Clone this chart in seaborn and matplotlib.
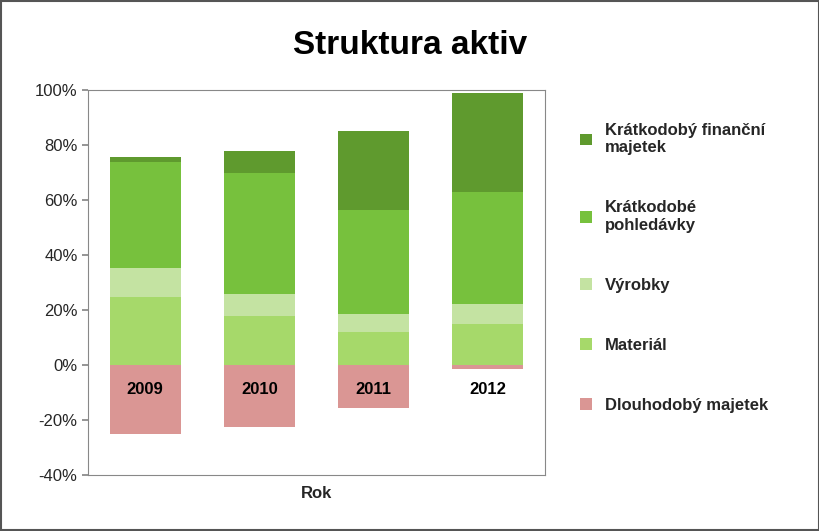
import matplotlib
matplotlib.use("Agg")
import matplotlib.pyplot as plt
import seaborn as sns
import numpy as np

years = ["2009", "2010", "2011", "2012"]
dlouhodoby = [-25.1, -22.5, -15.6, -1.5]
material = [24.7, 17.8, 12.0, 14.9]
vyrobky = [10.6, 8.0, 6.5, 7.3]
pohledavky = [38.5, 44.0, 37.9, 40.7]
financni = [1.8, 8.0, 28.7, 36.0]

sns.set_theme(style="white")
plt.rcParams['font.family'] = ['Liberation Sans', 'DejaVu Sans']

fig = plt.figure(figsize=(8.2, 5.31), dpi=100)
ax = fig.add_axes([88/820, 1-475/531, (545-88)/820, (475-90)/531])

series = [
    ("Dlouhodobý majetek", dlouhodoby, "#DA9694"),
    ("Materiál", material, "#A6D96A"),
    ("Výrobky", vyrobky, "#C4E3A2"),
    ("Krátkodobé\npohledávky", pohledavky, "#77C13D"),
    ("Krátkodobý finanční\nmajetek", financni, "#5F9A2E"),
]
pos_bottom = np.zeros(4)
for name, vals, col in series:
    vals = np.array(vals)
    if name.startswith("Dlouhodob"):
        b = np.zeros(4)
    else:
        b = pos_bottom.copy()
        pos_bottom += vals
    sns.barplot(x=years, y=vals, bottom=b, color=col, width=0.62, ax=ax,
                label=name, saturation=1, linewidth=0, legend=False)

h, l = ax.get_legend_handles_labels()
if ax.get_legend() is not None:
    ax.get_legend().remove()

for i, y in enumerate(years):
    ax.text(i, -9, y, ha="center", va="center", fontsize=12, fontweight="bold", color="black")

ax.set_ylim(-40, 100)
ax.set_yticks(range(-40, 101, 20))
ax.set_yticklabels([f"{v}%" for v in range(-40, 101, 20)], fontsize=12)
ax.set_xticks([])
ax.set_xlim(-0.5, 3.5)
ax.set_xlabel("Rok", fontsize=12, fontweight="bold", labelpad=8)
for s in ax.spines.values():
    s.set_color("#888888")
    s.set_linewidth(0.8)
ax.tick_params(axis="y", length=4, color="#888888", left=True)

fig.legend(h[::-1], l[::-1], loc="upper left", bbox_to_anchor=(565/820, 1-108/531),
           frameon=False, prop={"size": 12, "weight": "bold"}, labelspacing=2.7,
           handlelength=0.7, handleheight=0.7, handletextpad=0.8)

fig.text(0.5, 1-45/531, "Struktura aktiv", ha="center", va="center", fontsize=24,
         fontweight="bold", color="black")
fig.patches.append(plt.Rectangle((0.001, 0.001), 0.998, 0.998, transform=fig.transFigure,
                                 fill=False, edgecolor="#555555", linewidth=1.5))
fig.savefig("out.png", dpi=100)
